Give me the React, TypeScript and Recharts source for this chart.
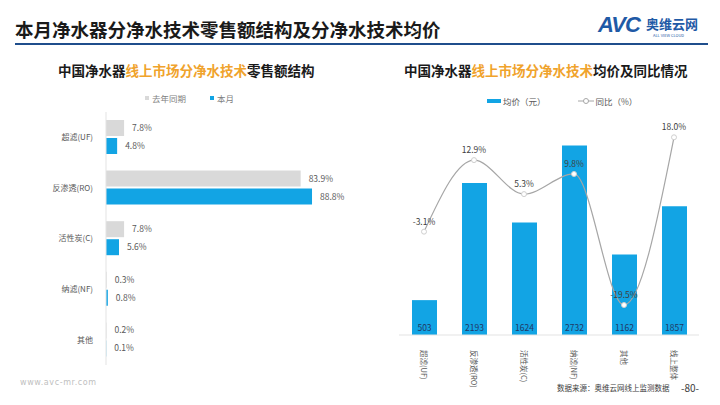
import { BarChart, Bar, ComposedChart, Line, XAxis, YAxis, LabelList } from 'recharts';

// left chart: retail share by technology
const techs = ['超滤(UF)', '反渗透(RO)', '活性炭(C)', '纳滤(NF)', '其他'];
const lastYear = [7.8, 83.9, 7.8, 0.3, 0.2];
const thisMonth = [4.8, 88.8, 5.6, 0.8, 0.1];

// right chart: average price and yoy
const priceCats = ['超滤(UF)', '反渗透(RO)', '活性炭(C)', '纳滤(NF)', '其他', '线上整体'];
const avgPrice = [503, 2193, 1624, 2732, 1162, 1857];
const yoy = [-3.1, 12.9, 5.3, 9.8, -19.5, 18.0];

const BLUE = '#12a4e4';
const GRAY = '#d9d9d9';
const FONT = '"Noto Sans CJK SC", "Noto Sans", sans-serif';

const shareData = techs.map((t, i) => ({ name: t, lastYear: lastYear[i], thisMonth: thisMonth[i] }));
const priceData = priceCats.map((c, i) => ({ name: c, price: avgPrice[i], yoy: yoy[i] }));

const pct = (v: any) => `${Number(v).toFixed(1)}%`;

const RotatedTick = (props: any) => {
  const { x, y, payload } = props;
  return (
    <text x={x} y={y + 7} transform={`rotate(90, ${x}, ${y + 7})`} textAnchor="start" dominantBaseline="central" fontSize={7.5} fill="#595959" fontFamily={FONT}>
      {payload.value}
    </text>
  );
};

const App = () => {
  return (
    <div style={{ position: 'absolute', left: 0, top: 0, width: 720, height: 405, background: '#fff', fontFamily: FONT, overflow: 'hidden' }}>
      {/* header */}
      <div style={{ position: 'absolute', left: 15, top: 16, fontSize: 18.5, fontWeight: 700, color: '#1a1a1a', whiteSpace: 'nowrap' }}>
        本月净水器分净水技术零售额结构及分净水技术均价
      </div>
      <div style={{ position: 'absolute', left: 15, top: 43, width: 693, height: 2, background: '#1f4e8c' }} />
      <div style={{ position: 'absolute', left: 598, top: 12, fontSize: 22, fontWeight: 900, fontStyle: 'italic', color: '#1f5aa6', fontFamily: 'Liberation Sans, sans-serif', letterSpacing: -1 }}>
        AVC
      </div>
      <div style={{ position: 'absolute', left: 646, top: 14, fontSize: 13, fontWeight: 700, color: '#1f5aa6', whiteSpace: 'nowrap' }}>奥维云网</div>
      <div style={{ position: 'absolute', left: 653, top: 32, fontSize: 4, color: '#1f5aa6', whiteSpace: 'nowrap' }}>ALL VIEW CLOUD</div>

      {/* subtitles */}
      <div style={{ position: 'absolute', left: 58, top: 60, fontSize: 13.5, fontWeight: 700, color: '#1a1a1a', whiteSpace: 'nowrap' }}>
        中国净水器<span style={{ color: '#f0a32c' }}>线上市场分净水技术</span>零售额结构
      </div>
      <div style={{ position: 'absolute', left: 404, top: 60, fontSize: 13.5, fontWeight: 700, color: '#1a1a1a', whiteSpace: 'nowrap' }}>
        中国净水器<span style={{ color: '#f0a32c' }}>线上市场分净水技术</span>均价及同比情况
      </div>

      {/* left legend */}
      <div style={{ position: 'absolute', left: 145, top: 92, fontSize: 8.5, color: '#7f7f7f', whiteSpace: 'nowrap', display: 'flex', alignItems: 'center' }}>
        <span style={{ display: 'inline-block', width: 4, height: 4, background: GRAY, marginRight: 3 }} />去年同期
        <span style={{ display: 'inline-block', width: 4, height: 4, background: BLUE, marginLeft: 24, marginRight: 3 }} />本月
      </div>

      {/* right legend */}
      <div style={{ position: 'absolute', left: 487, top: 95, fontSize: 8.5, color: '#595959', whiteSpace: 'nowrap', display: 'flex', alignItems: 'center' }}>
        <span style={{ display: 'inline-block', width: 14, height: 4, background: BLUE, marginRight: 2 }} />均价（元）
        <svg width={16} height={8} style={{ marginLeft: 32, marginRight: 2 }}>
          <line x1={0} y1={4} x2={16} y2={4} stroke="#a6a6a6" strokeWidth={1} />
          <circle cx={8} cy={4} r={2.5} fill="#fff" stroke="#a6a6a6" />
        </svg>
        同比（%）
      </div>

      <div style={{ position: 'absolute', left: 0, top: 0 }}>
        <BarChart width={360} height={405} data={shareData} layout="vertical" margin={{ top: 112, right: 22, bottom: 40, left: 0 }} barCategoryGap="15%" barGap={2}>
          <XAxis type="number" domain={[0, 100]} hide />
          <YAxis type="category" dataKey="name" width={106} tickLine={false} axisLine={{ stroke: '#e3e3e3' }} tick={{ fontSize: 8, fill: '#595959', fontFamily: FONT }} tickMargin={7} />
          <Bar dataKey="lastYear" fill={GRAY} barSize={16} isAnimationActive={false}>
            <LabelList dataKey="lastYear" position="right" formatter={pct} fontSize={8.5} fill="#595959" offset={8} />
          </Bar>
          <Bar dataKey="thisMonth" fill={BLUE} barSize={16} isAnimationActive={false}>
            <LabelList dataKey="thisMonth" position="right" formatter={pct} fontSize={8.5} fill="#595959" offset={8} />
          </Bar>
        </BarChart>
      </div>

      <div style={{ position: 'absolute', left: 370, top: 0 }}>
        <ComposedChart width={350} height={405} data={priceData} margin={{ top: 127, right: 21, bottom: 10, left: 29 }} barCategoryGap="25%">
          <XAxis dataKey="name" interval={0} tickLine={false} axisLine={{ stroke: '#e3e3e3' }} height={60} tick={<RotatedTick />} />
          <YAxis yAxisId="price" domain={[0, 3000]} hide />
          <YAxis yAxisId="yoy" orientation="right" domain={[-26.2, 20.3]} hide />
          <Bar yAxisId="price" dataKey="price" fill={BLUE} barSize={25} isAnimationActive={false}>
            <LabelList dataKey="price" position="insideBottom" fontSize={8.5} fill="#203864" offset={4} />
          </Bar>
          <Line yAxisId="yoy" type="monotone" dataKey="yoy" stroke="#a6a6a6" strokeWidth={1.2} dot={{ r: 2.5, fill: '#fff', stroke: '#cfcfcf', strokeWidth: 1 }} isAnimationActive={false}>
            <LabelList dataKey="yoy" position="top" formatter={pct} fontSize={8.5} fill="#404040" offset={7} />
          </Line>
        </ComposedChart>
      </div>

      {/* footer */}
      <div style={{ position: 'absolute', left: 20, top: 378, fontSize: 8, color: '#c0c0c0', letterSpacing: 0.6, whiteSpace: 'nowrap', fontFamily: 'DejaVu Sans, sans-serif' }}>www.avc-mr.com</div>
      <div style={{ position: 'absolute', left: 557, top: 382, fontSize: 7.5, color: '#404040', whiteSpace: 'nowrap' }}>数据来源：奥维云网线上监测数据</div>
      <div style={{ position: 'absolute', left: 681, top: 380, fontSize: 10, color: '#404040', whiteSpace: 'nowrap' }}>-80-</div>
    </div>
  );
};

export default App;
